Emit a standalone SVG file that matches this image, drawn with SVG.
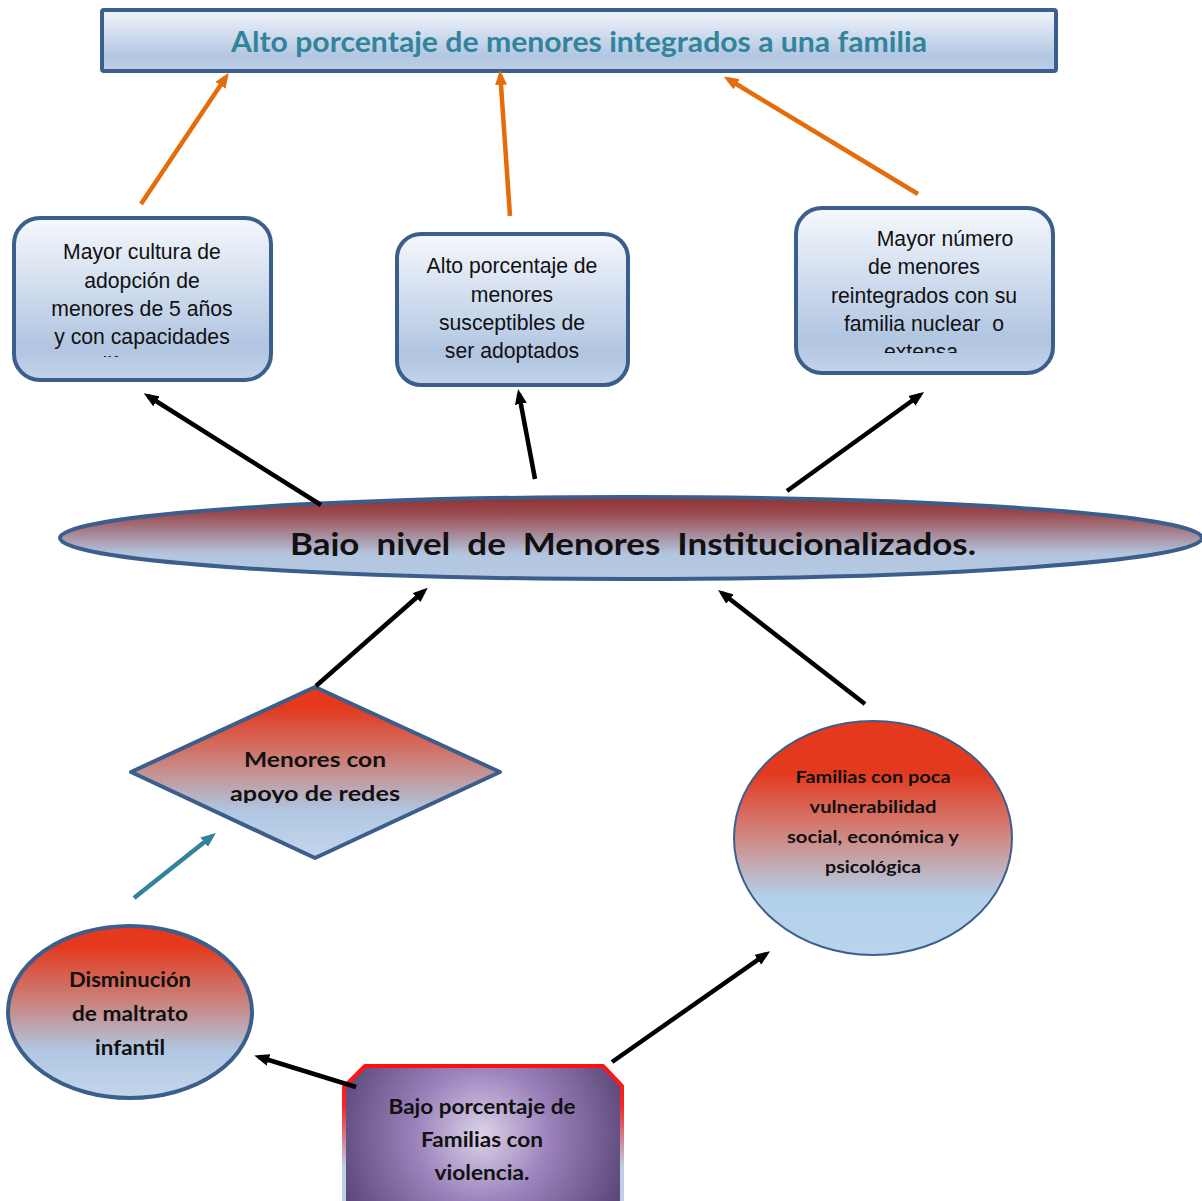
<svg xmlns="http://www.w3.org/2000/svg" width="1202" height="1201" viewBox="0 0 1202 1201">
<style>
.box{stroke:#3b5e8c;stroke-width:4;fill:url(#gBox)}
.bt{font-family:"Liberation Sans",Arial,sans-serif;font-size:21.2px;fill:#111;text-anchor:middle}
.bold{font-family:Lato,"Open Sans",sans-serif;font-weight:bold;fill:#111;text-anchor:middle}
.c{fill:none;stroke-width:4.5}
</style>
<defs>
<linearGradient id="gBox" x1="0" y1="0" x2="0" y2="1">
<stop offset="0" stop-color="#f6f8fc"/><stop offset="0.55" stop-color="#c6d5ea"/><stop offset="0.8" stop-color="#b1c5e1"/><stop offset="1" stop-color="#c3d3e9"/>
</linearGradient>
<linearGradient id="gTitle" x1="0" y1="0" x2="0" y2="1">
<stop offset="0" stop-color="#f1f4fa"/><stop offset="0.75" stop-color="#b3c7e2"/><stop offset="1" stop-color="#bccee6"/>
</linearGradient>
<linearGradient id="gMain" x1="0" y1="0" x2="0" y2="1">
<stop offset="0" stop-color="#8f3232"/><stop offset="0.2" stop-color="#9b4a4e"/><stop offset="0.7" stop-color="#b3c6e0"/><stop offset="1" stop-color="#b5c9e3"/>
</linearGradient>
<linearGradient id="gRed" x1="0" y1="0" x2="0" y2="1">
<stop offset="0" stop-color="#e8381c"/><stop offset="0.12" stop-color="#e3391e"/><stop offset="0.45" stop-color="#c98580"/><stop offset="0.72" stop-color="#b0c6e1"/><stop offset="1" stop-color="#c5d6ec"/>
</linearGradient>
<linearGradient id="gRed2" x1="0" y1="0" x2="0" y2="1">
<stop offset="0" stop-color="#e5391c"/><stop offset="0.22" stop-color="#e3391e"/><stop offset="0.5" stop-color="#cf8a86"/><stop offset="0.75" stop-color="#b3d0ea"/><stop offset="1" stop-color="#b9d4ec"/>
</linearGradient>
<radialGradient id="gPurple" cx="482" cy="1135" r="150" gradientUnits="userSpaceOnUse">
<stop offset="0" stop-color="#dcd2e8"/><stop offset="0.45" stop-color="#9b82bb"/><stop offset="1" stop-color="#5b4778"/>
</radialGradient>
<linearGradient id="gOct" x1="0" y1="1066" x2="0" y2="1201" gradientUnits="userSpaceOnUse">
<stop offset="0" stop-color="#ff1010"/><stop offset="0.3" stop-color="#ee2a2a"/><stop offset="0.75" stop-color="#bcd0e8"/><stop offset="1" stop-color="#bcd0e8"/>
</linearGradient>
<marker id="aO" markerUnits="userSpaceOnUse" markerWidth="15" markerHeight="12" refX="10" refY="6" orient="auto"><path d="M0,0 L15,6 L0,12 z" fill="#e46c0a"/></marker>
<marker id="aK" markerUnits="userSpaceOnUse" markerWidth="15" markerHeight="12" refX="10" refY="6" orient="auto"><path d="M0,0 L15,6 L0,12 z" fill="#000"/></marker>
<marker id="aT" markerUnits="userSpaceOnUse" markerWidth="15" markerHeight="12" refX="10" refY="6" orient="auto"><path d="M0,0 L15,6 L0,12 z" fill="#31849b"/></marker>
<clipPath id="clipL"><rect x="0" y="200" width="300" height="157"/></clipPath>
<clipPath id="clipR"><rect x="780" y="200" width="300" height="153"/></clipPath>
<clipPath id="clipE"><rect x="0" y="480" width="1202" height="76"/></clipPath>
<clipPath id="clipD"><rect x="100" y="680" width="420" height="123"/></clipPath>
</defs>
<rect width="1202" height="1201" fill="#fff"/>

<g id="title">
<rect x="102" y="10" width="954" height="61" rx="2" fill="url(#gTitle)" stroke="#3b5e8c" stroke-width="4"/>
<text x="579" y="52" class="bold" style="fill:#31849b;font-size:28px" textLength="696" lengthAdjust="spacingAndGlyphs">Alto porcentaje de menores integrados a una familia</text>
</g>

<g id="box-left">
<rect x="14" y="218" width="257" height="162" rx="26" class="box"/>
<g clip-path="url(#clipL)">
<text class="bt"><tspan x="142" y="259">Mayor cultura de</tspan><tspan x="142" y="288">adopción de</tspan><tspan x="142" y="316">menores de 5 años</tspan><tspan x="142" y="344">y con capacidades</tspan><tspan x="142" y="372">diferentes</tspan></text>
</g>
</g>

<g id="box-mid">
<rect x="397" y="234" width="231" height="151" rx="24" class="box"/>
<text class="bt"><tspan x="512" y="273">Alto porcentaje de</tspan><tspan x="512" y="302">menores</tspan><tspan x="512" y="330">susceptibles de</tspan><tspan x="512" y="358">ser adoptados</tspan></text>
</g>

<g id="box-right">
<rect x="796" y="208" width="257" height="165" rx="26" class="box"/>
<g clip-path="url(#clipR)">
<text class="bt"><tspan x="945" y="246">Mayor número</tspan><tspan x="924" y="274">de menores</tspan><tspan x="924" y="303">reintegrados con su</tspan><tspan x="924" y="331" xml:space="preserve">familia nuclear  o</tspan><tspan x="921" y="359">extensa</tspan></text>
</g>
</g>

<g id="main">
<ellipse cx="631" cy="538" rx="571" ry="41" fill="url(#gMain)" stroke="#3b5e8c" stroke-width="4"/>
<g clip-path="url(#clipE)">
<text x="633" y="555" class="bold" style="font-size:30px" textLength="686" lengthAdjust="spacingAndGlyphs" xml:space="preserve">Bajo  nivel  de  Menores  Institucionalizados.</text>
</g>
</g>

<g id="diamond">
<polygon points="315,687 500,772 315,858 131,772" fill="url(#gRed)" stroke="#3b5e8c" stroke-width="4" stroke-linejoin="round"/>
<g clip-path="url(#clipD)">
<text class="bold" style="font-size:21px"><tspan x="315" y="767" textLength="142" lengthAdjust="spacingAndGlyphs">Menores con</tspan><tspan x="315" y="801" textLength="170" lengthAdjust="spacingAndGlyphs">apoyo de redes</tspan></text>
</g>
</g>

<g id="familias">
<ellipse cx="873" cy="838" rx="139" ry="117" fill="url(#gRed2)" stroke="#3b5e8c" stroke-width="2"/>
<text class="bold" style="font-size:17px"><tspan x="873" y="783" textLength="155" lengthAdjust="spacingAndGlyphs">Familias con poca</tspan><tspan x="873" y="813" textLength="127" lengthAdjust="spacingAndGlyphs">vulnerabilidad</tspan><tspan x="873" y="843" textLength="172" lengthAdjust="spacingAndGlyphs">social, económica y</tspan><tspan x="873" y="873" textLength="96" lengthAdjust="spacingAndGlyphs">psicológica</tspan></text>
</g>

<g id="maltrato">
<ellipse cx="130" cy="1012" rx="122" ry="86" fill="url(#gRed)" stroke="#3b5e8c" stroke-width="4"/>
<text class="bold" style="font-size:20px"><tspan x="130" y="987" textLength="122" lengthAdjust="spacingAndGlyphs">Disminución</tspan><tspan x="130" y="1021" textLength="116" lengthAdjust="spacingAndGlyphs">de maltrato</tspan><tspan x="130" y="1055" textLength="70" lengthAdjust="spacingAndGlyphs">infantil</tspan></text>
</g>

<g id="violencia">
<polygon points="344,1087 365,1066 603,1066 622,1086 622,1205 344,1205" fill="url(#gPurple)" stroke="url(#gOct)" stroke-width="4" stroke-linejoin="round"/>
<text class="bold" style="font-size:20px"><tspan x="482" y="1114" textLength="187" lengthAdjust="spacingAndGlyphs">Bajo porcentaje de</tspan><tspan x="482" y="1147" textLength="122" lengthAdjust="spacingAndGlyphs">Familias con</tspan><tspan x="482" y="1180" textLength="95" lengthAdjust="spacingAndGlyphs">violencia.</tspan></text>
</g>

<g id="connectors">
<line x1="141" y1="204" x2="226" y2="77" class="c" stroke="#e46c0a" marker-end="url(#aO)"/>
<line x1="510" y1="216" x2="500.3" y2="75" class="c" stroke="#e46c0a" marker-end="url(#aO)"/>
<line x1="918" y1="194" x2="728" y2="79" class="c" stroke="#e46c0a" marker-end="url(#aO)"/>
<line x1="321" y1="505" x2="148" y2="396" class="c" stroke="#000" marker-end="url(#aK)"/>
<line x1="535" y1="479" x2="519" y2="394" class="c" stroke="#000" marker-end="url(#aK)"/>
<line x1="787" y1="491" x2="920" y2="395" class="c" stroke="#000" marker-end="url(#aK)"/>
<line x1="316" y1="686" x2="424" y2="591" class="c" stroke="#000" marker-end="url(#aK)"/>
<line x1="865" y1="704" x2="722" y2="593" class="c" stroke="#000" marker-end="url(#aK)"/>
<line x1="134" y1="898" x2="212" y2="836" class="c" stroke="#31849b" marker-end="url(#aT)"/>
<line x1="612" y1="1062" x2="766" y2="954" class="c" stroke="#000" marker-end="url(#aK)"/>
<line x1="356" y1="1087" x2="259" y2="1057" class="c" stroke="#000" marker-end="url(#aK)"/>
</g>
</svg>
